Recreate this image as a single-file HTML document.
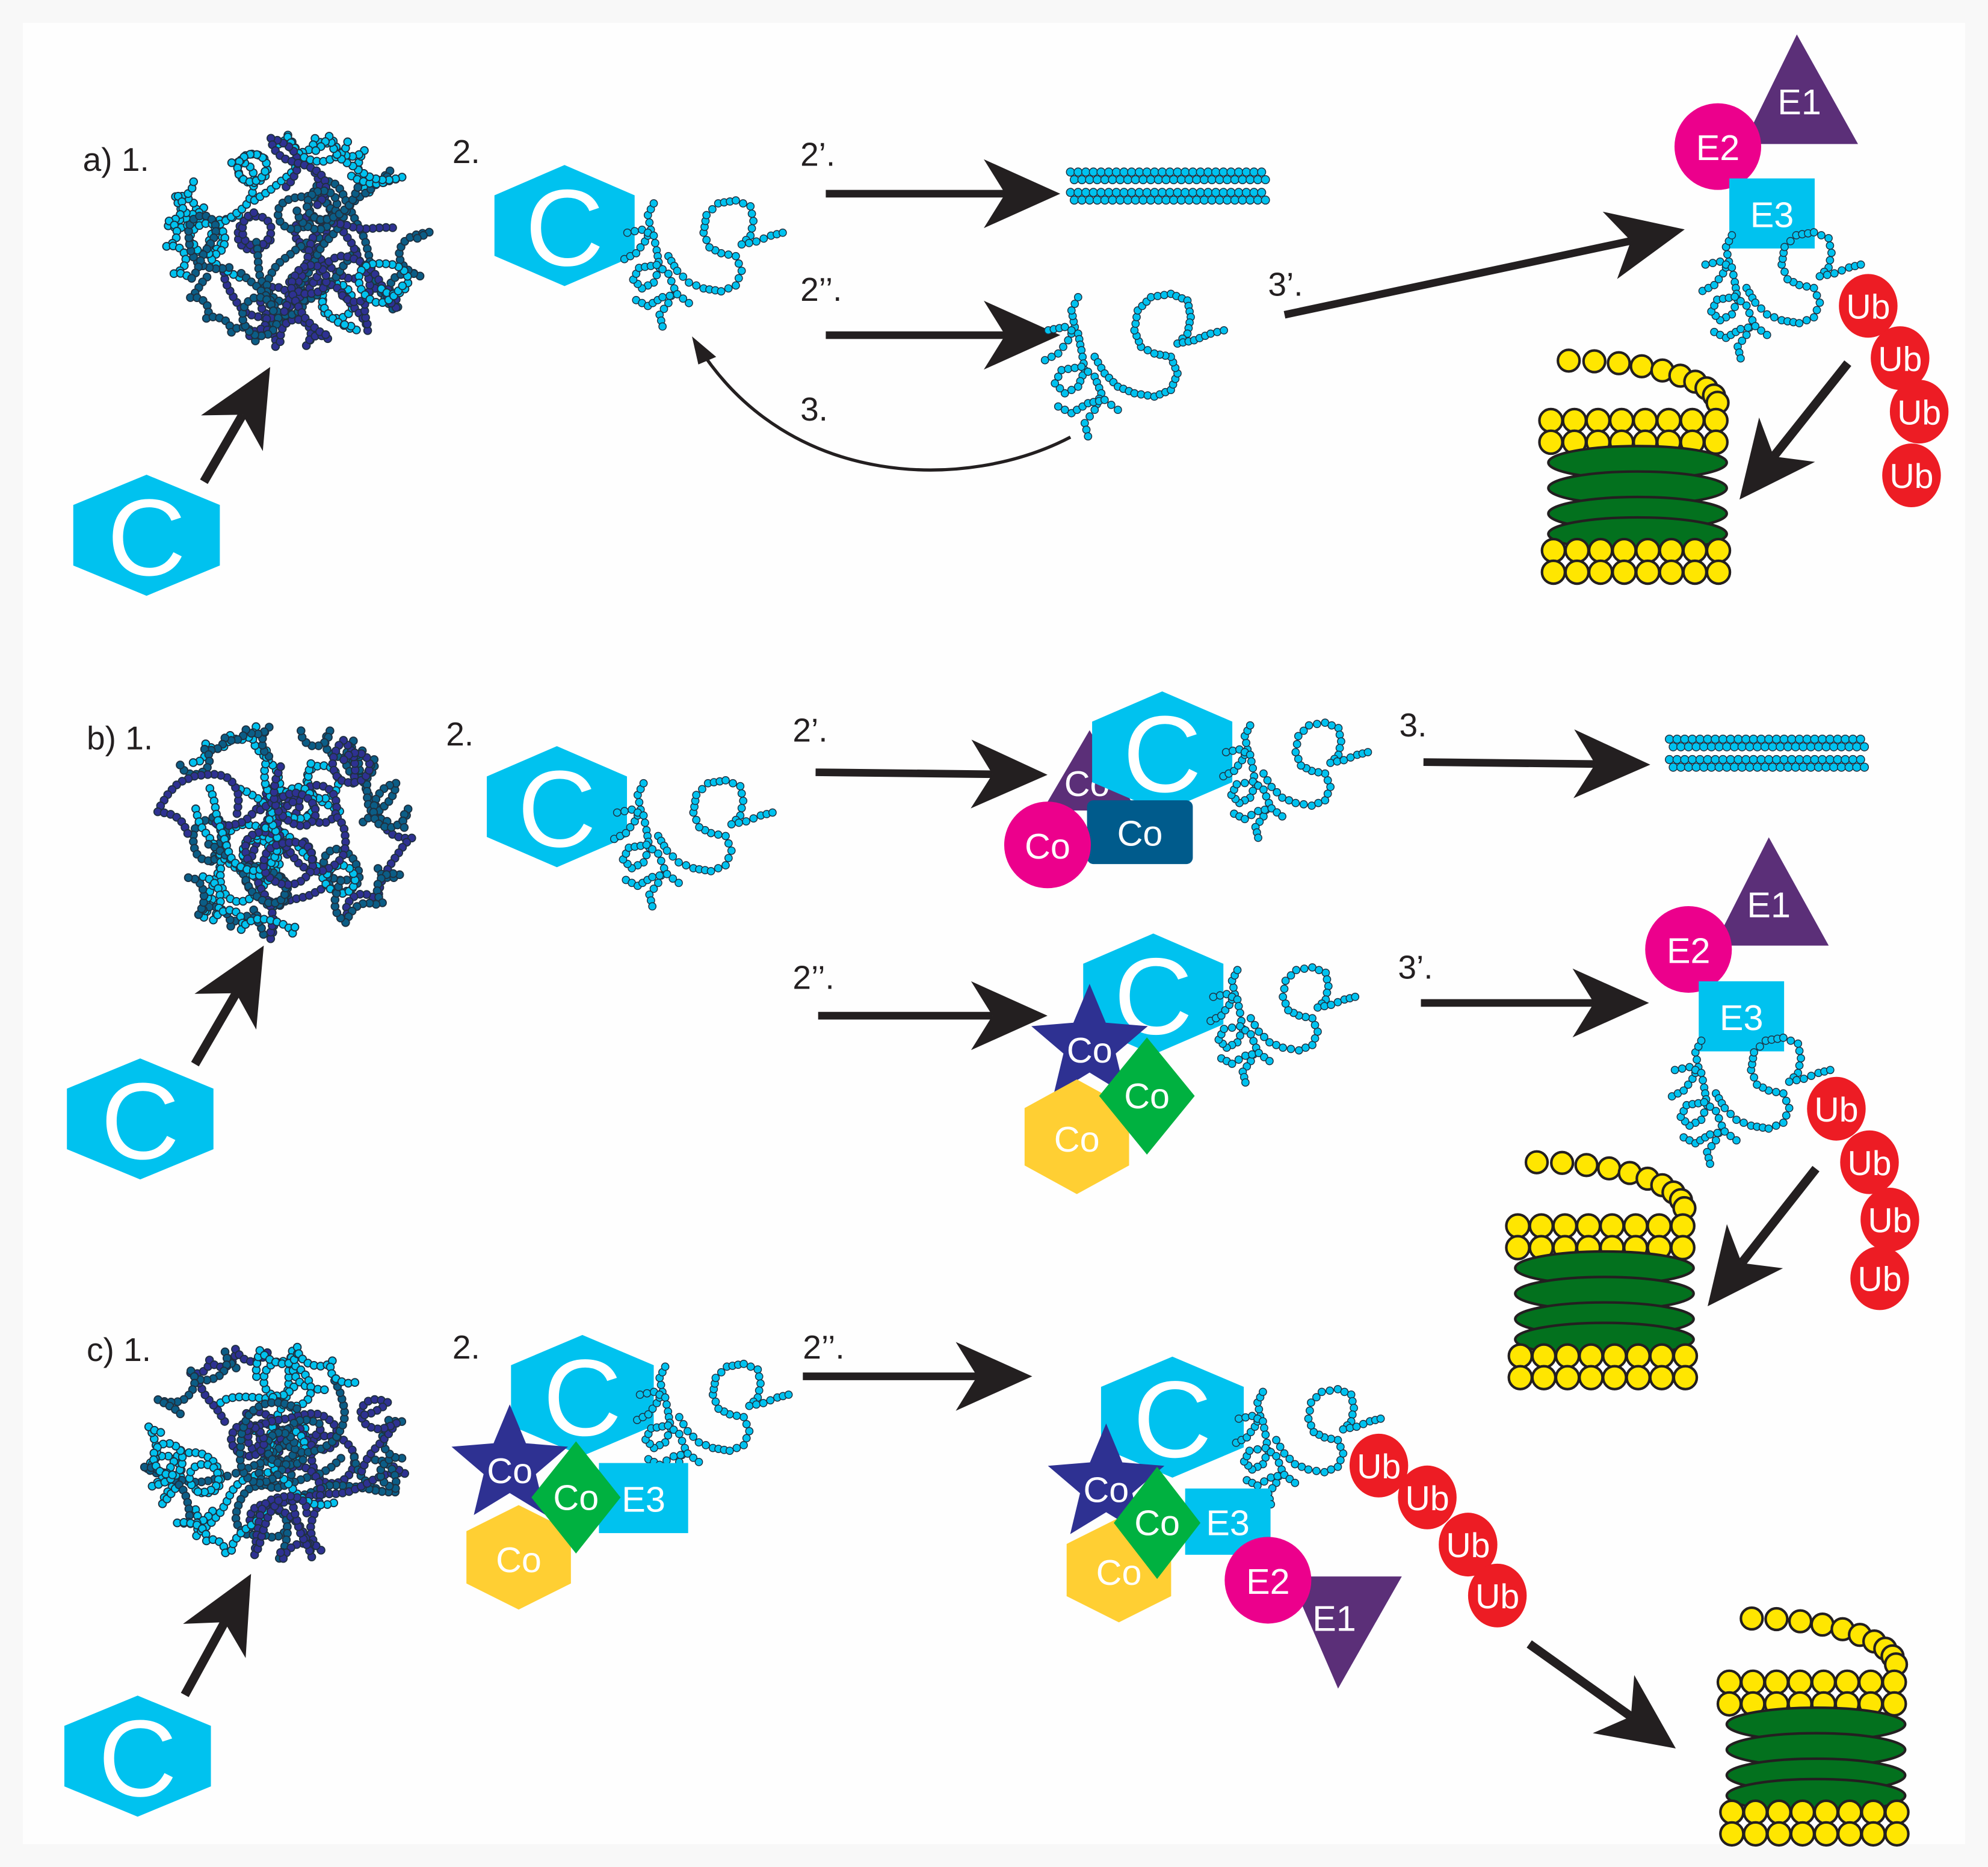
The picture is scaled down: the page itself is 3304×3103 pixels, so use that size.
<!DOCTYPE html>
<html><head><meta charset="utf-8"><style>
html,body{margin:0;padding:0;background:#f8f8f8;}
svg{display:block;}
text{font-family:"Liberation Sans",Arial,sans-serif;}
</style></head><body>
<svg id="s" width="3304" height="3103" viewBox="0 0 1560 1465" preserveAspectRatio="none" xmlns="http://www.w3.org/2000/svg">
<rect x="0" y="0" width="1560" height="1465" fill="#f8f8f8"/>
<rect x="18" y="18" width="1524" height="1429" fill="#fefefe"/>
<g id="g"></g>
</svg>
<script>
var o='';
var seed=987;function rnd(){seed=(seed*1103515245+12345)%2147483648;return seed/2147483648;}
function T(x,y,s,fs,fill,anchor){o+='<text x="'+x+'" y="'+y+'" font-size="'+(fs||26)+'" fill="'+(fill||'#231f20')+'" text-anchor="'+(anchor||'start')+'">'+s+'</text>';}
function CT(x,y,s,fs){o+='<text x="'+x+'" y="'+y+'" font-size="'+fs+'" fill="#fff" text-anchor="middle" dominant-baseline="central">'+s+'</text>';}
function hex(cx,cy,w,h,fill,lab,fs){var p=[[cx,cy-h/2],[cx+w/2,cy-h/4],[cx+w/2,cy+h/4],[cx,cy+h/2],[cx-w/2,cy+h/4],[cx-w/2,cy-h/4]];
o+='<polygon points="'+p.map(function(a){return a.join(',')}).join(' ')+'" fill="'+fill+'"/>';if(lab)CT(cx,cy+2,lab,fs);}
function C(cx,cy,w,h){hex(cx,cy,w||112,h||95,'#00c2ef','C',h?h*0.9:86);}
function arrow(x1,y1,x2,y2,w,hl,hw){w=w||6;hl=hl||55;hw=hw||27;var dx=x2-x1,dy=y2-y1,L=Math.sqrt(dx*dx+dy*dy),ux=dx/L,uy=dy/L,px=-uy,py=ux;
var bx=x2-ux*hl,by=y2-uy*hl,nx=x2-ux*hl*0.72,ny=y2-uy*hl*0.72;
o+='<line x1="'+x1+'" y1="'+y1+'" x2="'+nx+'" y2="'+ny+'" stroke="#231f20" stroke-width="'+w+'"/>';
o+='<polygon fill="#231f20" points="'+x2+','+y2+' '+(bx+px*hw)+','+(by+py*hw)+' '+nx+','+ny+' '+(bx-px*hw)+','+(by-py*hw)+'"/>';}
function bead(x,y,r,f,sw,sc){o+='<circle cx="'+x.toFixed(1)+'" cy="'+y.toFixed(1)+'" r="'+r+'" fill="'+f+'" stroke="'+(sc||'#1f3040')+'" stroke-width="'+(sw||0.7)+'"/>';}
var tpl=[[[0,42],[8,38],[14,30],[18,22],[16,12],[20,4]],[[2,24],[12,22],[20,26],[22,36],[24,48],[20,58],[12,62],[6,56],[10,48],[22,46],[30,52],[34,62],[30,72],[24,80],[26,88]],
[[30,40],[36,50],[44,58],[54,62],[66,64],[76,60],[80,50],[76,40],[66,38],[58,34],[54,24],[56,12],[64,4],[76,2],[86,6],[88,16],[86,26],[80,32],[90,30],[100,26],[108,24]],[[8,70],[16,74],[26,68],[36,66],[44,72]]];
function chain(ox,oy,s){s=s||1;tpl.forEach(function(pl){for(var i=0;i<pl.length-1;i++){var a=pl[i],b=pl[i+1],dx=b[0]-a[0],dy=b[1]-a[1],L=Math.sqrt(dx*dx+dy*dy),n=Math.max(1,Math.round(L*s/5.3));
for(var k=0;k<n;k++){var t=k/n;bead(ox+(a[0]+dx*t)*s,oy+(a[1]+dy*t)*s,2.9,'#00c2ef');}}var e=pl[pl.length-1];bead(ox+e[0]*s,oy+e[1]*s,2.9,'#00c2ef');});}
function clump(cx,cy,rx,ry){var cols=['#00c2ef','#0b5d86','#2e3192'];for(var c=0;c<30;c++){var col=cols[c%3];var a=rnd()*6.28,rr=Math.sqrt(rnd())*0.85;var x=cx+Math.cos(a)*rx*rr,y=cy+Math.sin(a)*ry*rr,d=rnd()*6.28,w=(rnd()-0.5)*0.6;
for(var i=0;i<26;i++){w+=(rnd()-0.5)*0.35;if(w>0.5)w=0.5;if(w<-0.5)w=-0.5;d+=w;x+=Math.cos(d)*5.2;y+=Math.sin(d)*5.2;var ex=(x-cx)/rx,ey=(y-cy)/ry;if(ex*ex+ey*ey>1){d=Math.atan2(cy-y,cx-x)+(rnd()-0.5);}bead(x,y,3,col,0.9);}}}
function fibril(x1,x2,y){[y,y+6,y+16,y+22].forEach(function(yy,j){for(var x=x1+(j%2)*3;x<=x2;x+=6)bead(x,yy,3.2,'#00c2ef');});}
function prot(x,y,cx1,cy1){var yb='#ffe600',g='#03711e';
var pts=[];for(var i=0;i<10;i++){var t=i/9;var a=Math.PI*0.5*t;pts.push([cx1+ (x+140-cx1)*Math.sin(a*0.9+0.1)*1.0, cy1+ (y-14-cy1)*(1-Math.cos(a))]);}
pts.forEach(function(p){bead(p[0],p[1],8.5,yb,2,'#231f20');});
[0,17].forEach(function(dy){for(var i=0;i<8;i++)bead(x+9+i*18.5,y+dy,9,yb,2,'#231f20');});
[33,53,73,89].forEach(function(dy){o+='<ellipse cx="'+(x+77)+'" cy="'+(y+dy)+'" rx="70" ry="13" fill="'+g+'" stroke="#231f20" stroke-width="2"/>';});
[102,119].forEach(function(dy){for(var i=0;i<8;i++)bead(x+11+i*18.5,y+dy,9,yb,2,'#231f20');});}
function ub(x,y){o+='<ellipse cx="'+x+'" cy="'+y+'" rx="23" ry="25" fill="#ed1c24"/>';CT(x,y+1,'Ub',27);}
function tri(p,f,lab,lx,ly,fs){o+='<polygon points="'+p+'" fill="'+f+'"/>';if(lab)CT(lx,ly,lab,fs||28);}
function circ(x,y,r,f,lab,fs){o+='<circle cx="'+x+'" cy="'+y+'" r="'+r+'" fill="'+f+'"/>';if(lab)CT(x,y+1,lab,fs||28);}
function rect(x,y,w,h,f,lab,fs,rx){o+='<rect x="'+x+'" y="'+y+'" width="'+w+'" height="'+h+'" rx="'+(rx||0)+'" fill="'+f+'"/>';if(lab)CT(x+w/2,y+h/2+1,lab,fs||28);}
function star(cx,cy,R,f,lab){var p=[];for(var i=0;i<10;i++){var r=i%2?R*0.45:R,a=-Math.PI/2+i*Math.PI/5;p.push((cx+r*Math.cos(a)).toFixed(1)+','+(cy+r*Math.sin(a)).toFixed(1));}o+='<polygon points="'+p.join(' ')+'" fill="'+f+'"/>';if(lab)CT(cx,cy+4,lab,28);}
function diamond(cx,cy,w,h,f,lab){o+='<polygon points="'+cx+','+(cy-h/2)+' '+(cx+w/2)+','+cy+' '+cx+','+(cy+h/2)+' '+(cx-w/2)+','+cy+'" fill="'+f+'"/>';if(lab)CT(cx,cy,lab,28);}
var P='#5b2f78',M='#ec008c',CY='#00c2ef',SB='#2e3192',GR='#00b140',YE='#ffcf33';
/* panel a */
T(65,134,'a) 1.');clump(232,188,100,80);arrow(160,378,212,288,7,60,28);C(115,420,115,95);
T(355,128,'2.');C(443,177,110,95);chain(490,155,1.15);
T(628,130,'2’.');arrow(648,152,832,152,6,60,27);fibril(840,995,135);
T(628,236,'2’’.');arrow(648,263,832,263,6,60,27);chain(820,228,1.3);
o+='<path d="M840,343 C760,385 620,385 548,272" fill="none" stroke="#231f20" stroke-width="2.5"/>';o+='<polygon points="543,264 562,280 548,286" fill="#231f20"/>';
T(628,330,'3.');T(995,232,'3’.');arrow(1008,247,1322,180,6,60,27);
tri('1410,27 1368,113 1458,113',P,'E1',1412,80);circ(1348,115,34,M,'E2');rect(1357,140,67,55,CY,'E3');
chain(1336,180,1.15);ub(1466,240);ub(1491,281);ub(1506,323);ub(1500,373);
arrow(1450,285,1365,392,7,60,28);prot(1208,330,1218,283);
/* panel b */
T(68,588,'b) 1.');clump(222,652,100,80);arrow(153,835,207,742,7,60,28);C(110,878,115,95);
T(350,585,'2.');C(437,633,110,95);chain(482,610,1.15);
T(622,582,'2’.');arrow(640,606,822,608,6,60,27);
tri('855,573 818,636 892,636',P,'Co',853,615);C(912,590,110,95);rect(853,628,83,50,'#005b8c','Co',28,5);circ(822,663,34,M,'Co');chain(960,565,1.05);
T(1098,578,'3.');arrow(1117,598,1295,600,6,60,27);fibril(1310,1465,580);
T(622,776,'2’’.');arrow(642,797,822,797,6,60,27);
C(905,780,110,95);star(855,820,48,SB,'Co');hex(845,892,82,90,YE,'Co',28);diamond(900,860,75,92,GR,'Co');chain(950,757,1.05);
T(1097,768,'3’.');arrow(1115,787,1294,787,6,60,27);
tri('1388,657 1345,742 1435,742',P,'E1',1388,710);circ(1325,745,34,M,'E2');rect(1333,770,67,55,CY,'E3');
chain(1312,812,1.15);ub(1441,870);ub(1467,912);ub(1483,957);ub(1475,1003);
arrow(1425,917,1340,1025,7,60,28);prot(1182,962,1193,912);
/* panel c */
T(68,1068,'c) 1.');clump(215,1140,100,80);arrow(145,1330,197,1235,7,60,28);C(108,1378,115,95);
T(355,1066,'2.');C(457,1095,112,95);chain(500,1068,1.1);
star(400,1150,48,SB,'Co');rect(470,1148,70,55,CY,'E3');hex(407,1222,82,82,YE,'Co',28);diamond(452,1175,70,88,GR,'Co');
T(630,1066,'2’’.');arrow(630,1080,810,1080,6,60,27);
C(920,1112,112,95);chain(970,1088,1.05);star(868,1165,48,SB,'Co');rect(930,1168,67,52,CY,'E3');hex(878,1232,82,82,YE,'Co',28);diamond(908,1195,68,88,GR,'Co');
tri('1012,1237 1100,1237 1050,1325',P,'E1',1047,1270);circ(995,1240,34,M,'E2');
ub(1082,1150);ub(1120,1175);ub(1152,1212);ub(1175,1252);
arrow(1200,1290,1315,1372,7,60,28);prot(1348,1320,1362,1270);
document.getElementById('g').innerHTML=o;
</script>
</body></html>
